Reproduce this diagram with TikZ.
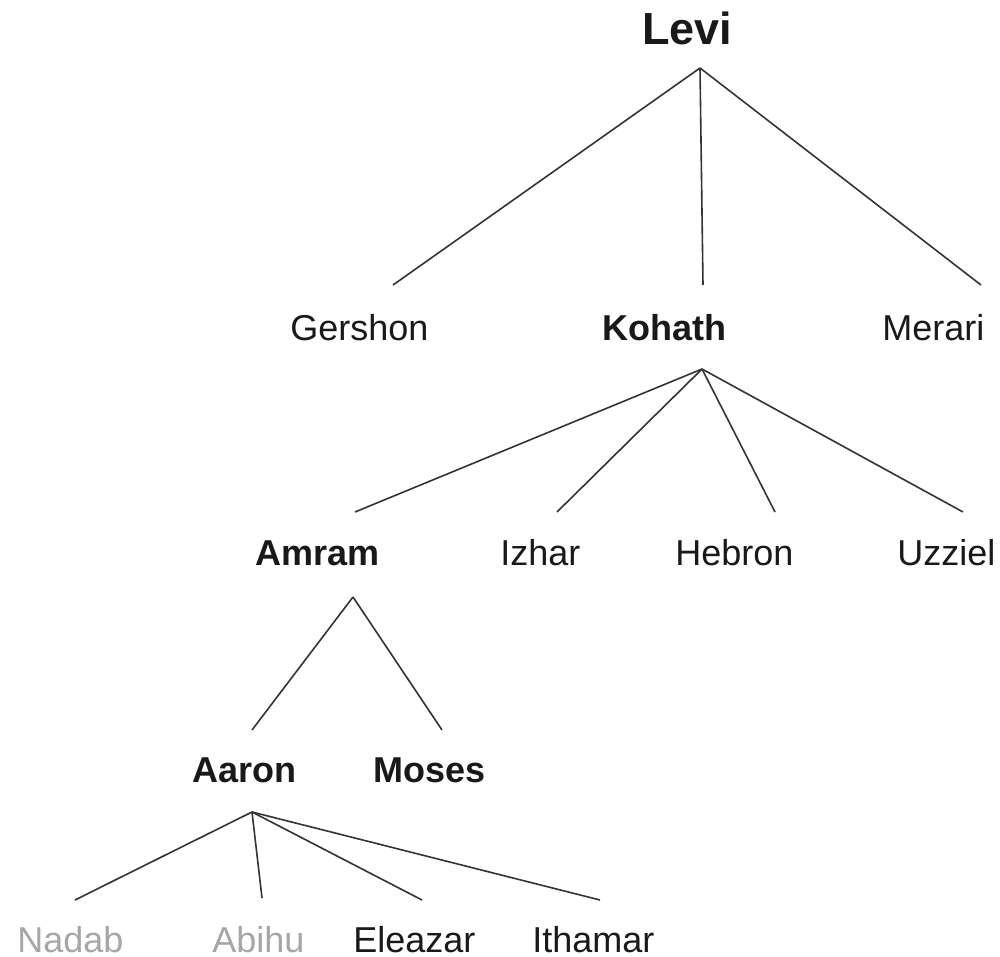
\documentclass[tikz,border=0pt]{standalone}
\usepackage{fontspec}
\setmainfont{Liberation Sans}
\begin{document}
\begin{tikzpicture}[x=0.5pt,y=-0.5pt,font=\fontsize{18}{21}\selectfont,
  person/.style={anchor=base west,inner sep=0pt,text=black!90},
  leader/.style={person,font=\fontsize{18}{21}\selectfont\bfseries},
  dead/.style={person,text=black!35},
  link/.style={draw=black!80,line width=0.8pt}]
  \useasboundingbox (0,0) rectangle (1000,957);
  % names, row by row
  \node[leader,font=\fontsize{22.5}{26}\selectfont\bfseries] (levi) at (642,45) {Levi};
  \node[person] (gershon) at (290,340) {Gershon};
  \node[leader] (kohath) at (602,340) {Kohath};
  \node[person] (merari) at (882,340) {Merari};
  \node[leader] (amram) at (255,565) {Amram};
  \node[person] (izhar) at (500,565) {Izhar};
  \node[person] (hebron) at (675,565) {Hebron};
  \node[person] (uzziel) at (897,565) {Uzziel};
  \node[leader] (aaron) at (192,782) {Aaron};
  \node[leader] (moses) at (373,782) {Moses};
  \node[dead] (nadab) at (17,952) {Nadab};
  \node[dead] (abihu) at (212,952) {Abihu};
  \node[person] (eleazar) at (353,952) {Eleazar};
  \node[person] (ithamar) at (532,952) {Ithamar};
  % forks below the parents, tips above the children
  \coordinate (levi-fork) at (700,68);
  \coordinate (kohath-fork) at (702,369);
  \coordinate (amram-fork) at (353,597);
  \coordinate (aaron-fork) at (252,812);
  \coordinate (gershon-tip) at (393,285);
  \coordinate (kohath-tip) at (703,285);
  \coordinate (merari-tip) at (981,285);
  \coordinate (amram-tip) at (355,512);
  \coordinate (izhar-tip) at (557,512);
  \coordinate (hebron-tip) at (775,512);
  \coordinate (uzziel-tip) at (963,512);
  \coordinate (aaron-tip) at (252,730);
  \coordinate (moses-tip) at (442,730);
  \coordinate (nadab-tip) at (75,900);
  \coordinate (abihu-tip) at (262,898);
  \coordinate (eleazar-tip) at (422,900);
  \coordinate (ithamar-tip) at (600,900);
  \foreach \c in {gershon,kohath,merari}
    \draw[link] (levi-fork) -- (\c-tip);
  \foreach \c in {amram,izhar,hebron,uzziel}
    \draw[link] (kohath-fork) -- (\c-tip);
  \foreach \c in {aaron,moses}
    \draw[link] (amram-fork) -- (\c-tip);
  \foreach \c in {nadab,abihu,eleazar,ithamar}
    \draw[link] (aaron-fork) -- (\c-tip);
\end{tikzpicture}
\end{document}
